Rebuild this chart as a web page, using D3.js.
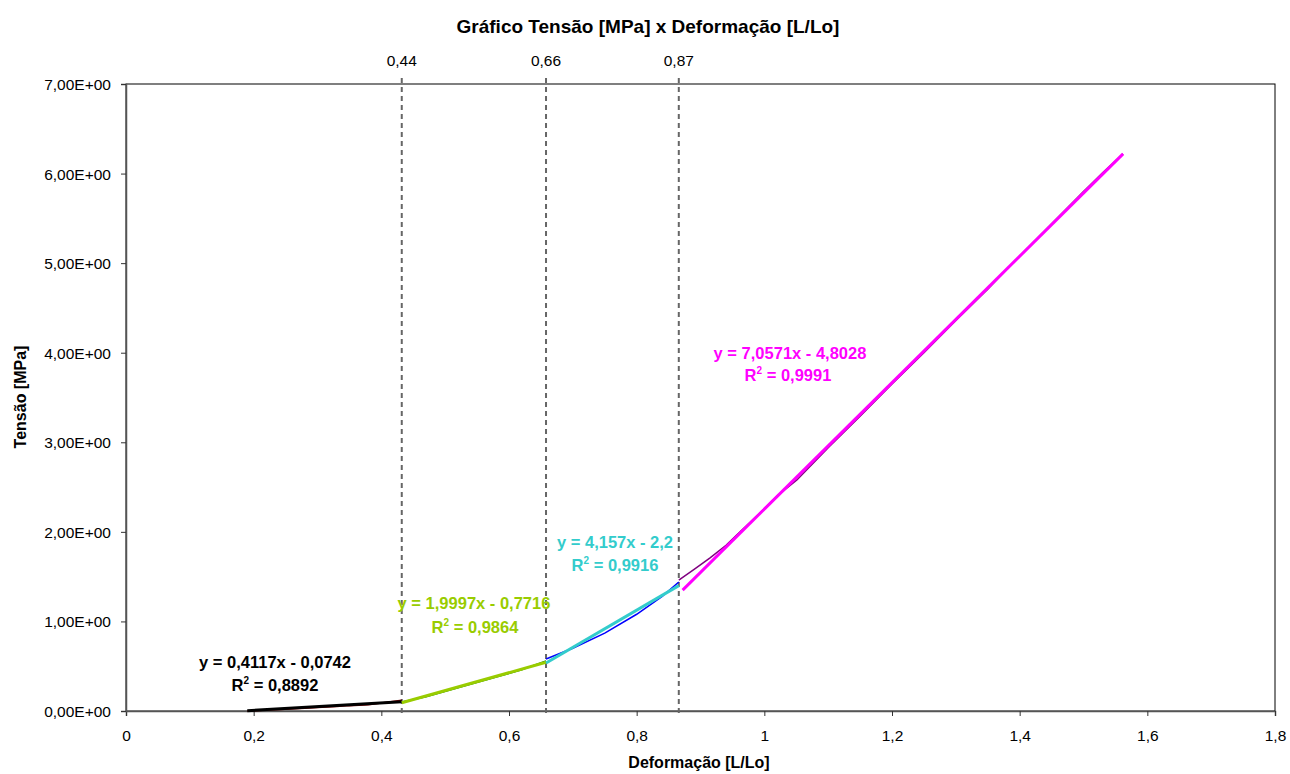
<!DOCTYPE html>
<html><head><meta charset="utf-8">
<script src="https://cdn.jsdelivr.net/npm/d3@7"></script>
<style>body{margin:0;background:#fff}svg{display:block;font-family:"Liberation Sans",Arial,sans-serif}</style>
</head><body><svg id="c" width="1290" height="774"></svg>
<script>
// ---- data ----
const xTicks = [0, 0.2, 0.4, 0.6, 0.8, 1, 1.2, 1.4, 1.6, 1.8];
const xTickLabels = ["0", "0,2", "0,4", "0,6", "0,8", "1", "1,2", "1,4", "1,6", "1,8"];
const yTicks = [0, 1, 2, 3, 4, 5, 6, 7];
const yTickLabels = ["0,00E+00", "1,00E+00", "2,00E+00", "3,00E+00", "4,00E+00", "5,00E+00", "6,00E+00", "7,00E+00"];
const limitX = [0.432, 0.658, 0.866];
const limitLabels = ["0,44", "0,66", "0,87"];

// raw measured segments
const raw1X = [0.19, 0.22, 0.25, 0.28, 0.30, 0.33, 0.35, 0.38, 0.40, 0.42, 0.432];
const raw1Y = [0.00, 0.01, 0.02, 0.03, 0.04, 0.05, 0.06, 0.07, 0.09, 0.11, 0.12];
const raw2X = [0.432, 0.47, 0.52, 0.58, 0.62, 0.658];
const raw2Y = [0.10, 0.16, 0.26, 0.38, 0.46, 0.56];
const raw3X = [0.658, 0.70, 0.75, 0.80, 0.84, 0.866];
const raw3Y = [0.58, 0.70, 0.87, 1.08, 1.28, 1.44];
const raw4X = [0.866, 0.89, 0.915, 0.94, 0.962, 0.993, 1.02, 1.051, 1.10, 1.15, 1.20, 1.25, 1.30, 1.35, 1.40, 1.45, 1.50, 1.53, 1.562];
const raw4Y = [1.46, 1.58, 1.71, 1.85, 2.00, 2.21, 2.40, 2.58, 2.94, 3.29, 3.65, 4.00, 4.36, 4.71, 5.08, 5.44, 5.80, 6.01, 6.22];

// trendline endpoints
const trendX = [[0.19, 0.432], [0.432, 0.658], [0.658, 0.866], [0.872, 1.562]];
const trendY = [[0.004, 0.104], [0.092, 0.544], [0.535, 1.40], [1.35, 6.22]];
const trendColors = ["#000000", "#99cc00", "#33cccc", "#ff00ff"];
const rawColors = ["#800000", "#008000", "#0000ff", "#800080"];
const eqLabels = ["y = 0,4117x - 0,0742", "y = 1,9997x - 0,7716", "y = 4,157x - 2,2", "y = 7,0571x - 4,8028"];
const r2Labels = ["0,8892", "0,9864", "0,9916", "0,9991"];

// ---- layout ----
const svg = d3.select("#c");
const L = 126, R = 1275, T = 84, B = 711;
const x = d3.scaleLinear().domain([0, 1.8]).range([L, R]);
const y = d3.scaleLinear().domain([0, 7]).range([B, T]);

svg.append("text").attr("x", 648).attr("y", 33).attr("text-anchor", "middle")
  .attr("font-size", 19).attr("font-weight", "bold").text("Gráfico Tensão [MPa] x Deformação [L/Lo]");

// frame
svg.append("rect").attr("x", L).attr("y", T).attr("width", R - L).attr("height", B - T)
  .attr("fill", "none").attr("stroke", "#000").attr("stroke-width", 1);

// axes
const xAxis = d3.axisBottom(x).tickValues(xTicks).tickFormat((d, i) => xTickLabels[i]).tickSizeOuter(0).tickSize(5).tickPadding(14);
const gx = svg.append("g").attr("transform", `translate(0,${B})`).call(xAxis);
const yAxis = d3.axisLeft(y).tickValues(yTicks).tickFormat((d, i) => yTickLabels[i]).tickSizeOuter(0).tickSize(5).tickPadding(10);
const gy = svg.append("g").attr("transform", `translate(${L},0)`).call(yAxis);
[gx, gy].forEach(g => {
  g.select(".domain").attr("stroke", "#555").attr("stroke-width", 1.5);
  g.selectAll(".tick line").attr("stroke", "#333");
  g.selectAll("text").attr("font-size", 15.5).attr("fill", "#000").attr("font-family", "Liberation Sans, Arial, sans-serif");
});
gy.selectAll(".tick text").attr("dy", "0.35em");

svg.append("text").attr("x", 699).attr("y", 768).attr("text-anchor", "middle")
  .attr("font-size", 16).attr("font-weight", "bold").text("Deformação [L/Lo]");
svg.append("text").attr("transform", "translate(26,397) rotate(-90)").attr("text-anchor", "middle")
  .attr("font-size", 16).attr("font-weight", "bold").text("Tensão [MPa]");

// limit dashed lines
limitX.forEach((v, i) => {
  svg.append("line").attr("x1", x(v)).attr("x2", x(v)).attr("y1", 78).attr("y2", B + 4)
    .attr("stroke", "#666").attr("stroke-width", 2).attr("stroke-dasharray", "5,4");
  svg.append("text").attr("x", x(v)).attr("y", 66).attr("text-anchor", "middle")
    .attr("font-size", 15.5).text(limitLabels[i]);
});

// raw data
const line = d3.line().x(d => x(d[0])).y(d => y(d[1]));
const raws = [[raw1X, raw1Y], [raw2X, raw2Y], [raw3X, raw3Y], [raw4X, raw4Y]];
raws.forEach((r, i) => {
  const pts = r[0].map((v, j) => [v, r[1][j]]);
  svg.append("path").attr("d", line(pts)).attr("fill", "none")
    .attr("stroke", rawColors[i]).attr("stroke-width", 1.5);
});

// trendlines
trendX.forEach((tx, i) => {
  const pts = tx.map((v, j) => [v, trendY[i][j]]);
  svg.append("path").attr("d", line(pts)).attr("fill", "none")
    .attr("stroke", trendColors[i]).attr("stroke-width", 3);
});

// equation labels
const labelPos = [[275, 668, 275, 691], [474, 609, 475, 633], [615, 548, 615, 571], [790, 359, 788, 381]];
labelPos.forEach((p, i) => {
  const c = trendColors[i];
  svg.append("text").attr("x", p[0]).attr("y", p[1]).attr("text-anchor", "middle")
    .attr("font-size", 16.5).attr("font-weight", "bold").attr("fill", c).text(eqLabels[i]);
  const t = svg.append("text").attr("x", p[2]).attr("y", p[3]).attr("text-anchor", "middle")
    .attr("font-size", 16.5).attr("font-weight", "bold").attr("fill", c);
  t.append("tspan").text("R");
  t.append("tspan").attr("font-size", 10).attr("dy", -7).text("2");
  t.append("tspan").attr("dy", 7).text(" = " + r2Labels[i]);
});
</script></body></html>
